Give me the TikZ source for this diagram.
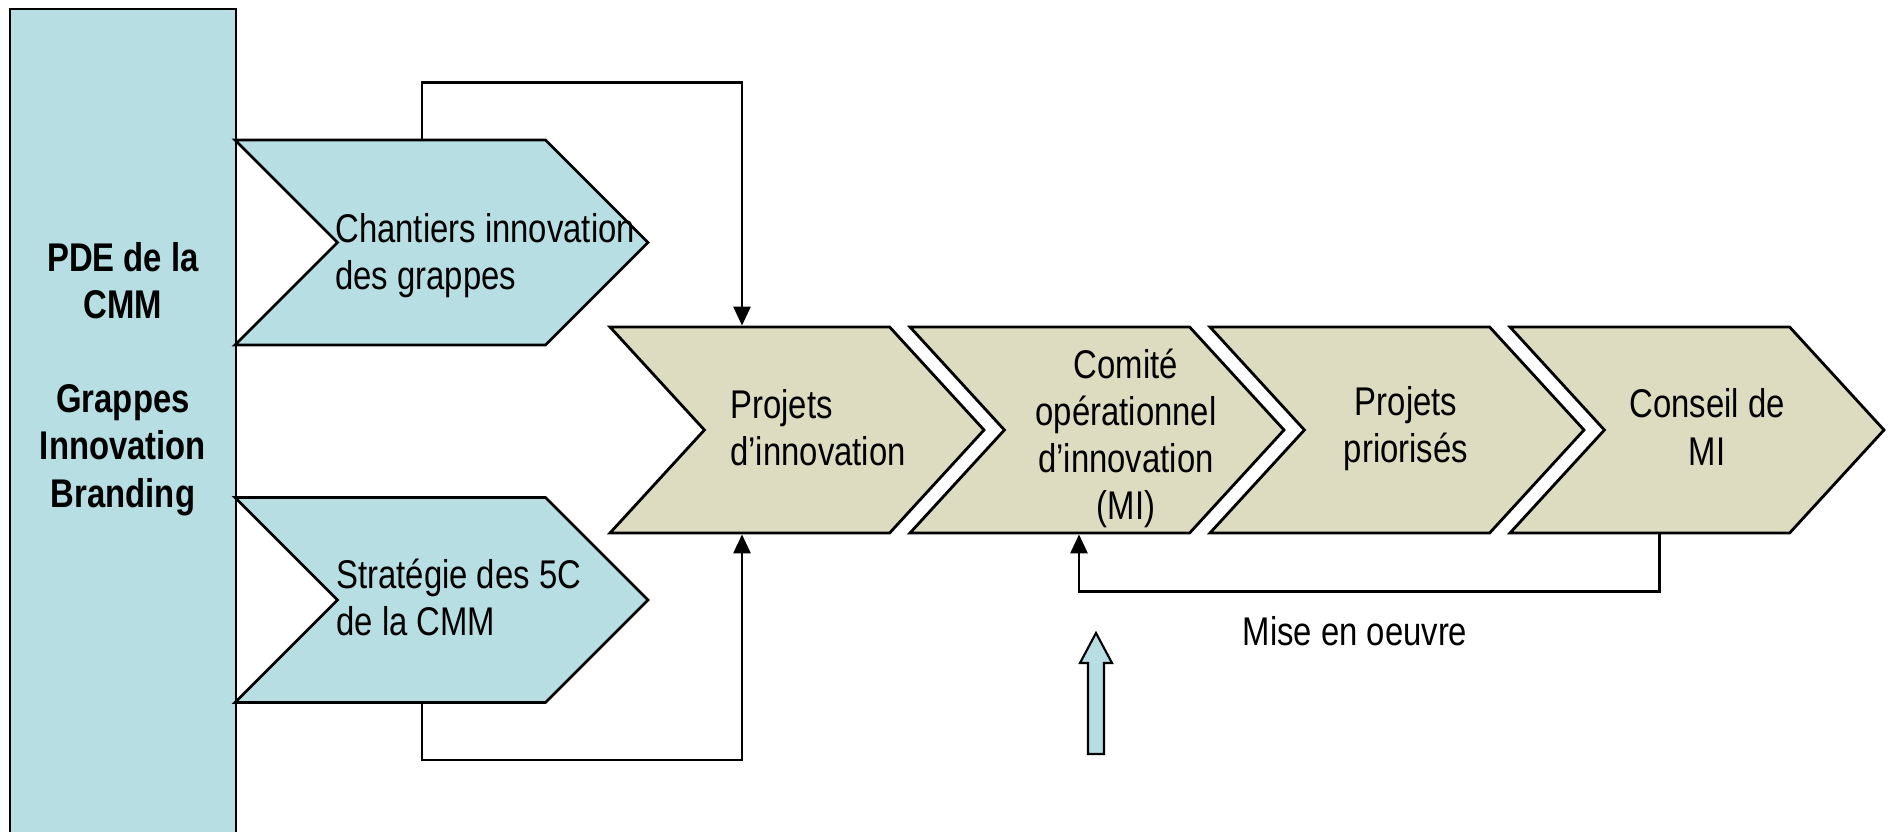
\documentclass[tikz,border=0pt]{standalone}
\usepackage{fontspec}
\setmainfont[FakeStretch=0.82]{Liberation Sans}
\usetikzlibrary{shapes.symbols,arrows.meta}

\definecolor{grappebleu}{HTML}{B7DEE2}
\definecolor{projetbeige}{HTML}{DDDBC0}

\begin{document}
\begin{tikzpicture}[
  line width=0.8pt,
  bloc/.style={signal, signal from=west, signal to=east, draw=black, inner sep=0pt},
  bleu/.style={bloc, fill=grappebleu, signal pointer angle=90, minimum width=4.13cm, minimum height=2.05cm},
  beige/.style={bloc, fill=projetbeige, signal pointer angle=95, minimum width=3.74cm, minimum height=2.06cm},
  txt/.style={inner sep=0pt, font=\fontsize{11.4}{13.4}\selectfont},
  lien/.style={-{Triangle[length=0.19cm,width=0.17cm]}}
]
\clip (0,0) rectangle (18.93,8.31);

% colonne de gauche
\filldraw[fill=grappebleu] (0.10,-0.2) rectangle (2.36,8.22);
\node[txt, align=center, font=\fontsize{11.4}{13.4}\selectfont\bfseries] (pde) at (1.23,4.52)
  {PDE de la\\CMM\\[13.4pt]Grappes\\Innovation\\Branding};

% entrees
\node[bleu] (chantiers) at (4.415,5.885) {};
\node[bleu] (strategie) at (4.415,2.31) {};
\node[txt, anchor=west, align=left] (tchantiers) at (3.34,5.755) {Chantiers innovation\\des grappes};
\node[txt, anchor=west, align=left] (tstrategie) at (3.35,2.34) {Stratégie des 5C\\de la CMM};

% chaine
\node[beige] (projets) at (7.97,4.01) {};
\node[beige] (comite) at (10.97,4.01) {};
\node[beige] (priorises) at (13.97,4.01) {};
\node[beige] (conseil) at (16.97,4.01) {};

\node[txt, anchor=west, align=left] (tprojets) at (7.29,4.035) {Projets\\d’innovation};
\node[txt, align=center] (tcomite) at (11.26,3.925) {Comité\\opérationnel\\d’innovation\\(MI)};
\node[txt, align=center] (tpriorises) at (14.06,4.02) {Projets\\priorisés};
\node[txt, align=center] (tconseil) at (17.07,4.04) {Conseil de\\MI};
\node[txt] (mise) at (13.55,2.00) {Mise en oeuvre};

% liens
\draw[lien] ([xshift=-0.195cm]chantiers.north) -- ++(0,0.56) -| ([xshift=-0.55cm]projets.north);
\draw[lien] ([xshift=-0.195cm]strategie.south) -- ++(0,-0.56) -| ([xshift=-0.55cm]projets.south);
\draw[lien] ([xshift=-0.375cm]conseil.south) -- ++(0,-0.57) -| ([xshift=-0.18cm]comite.south);

% fleche bleue
\filldraw[fill=grappebleu, line width=0.6pt] (10.88,0.77) -- (10.88,1.68) -- (10.80,1.68)
  -- (10.96,1.98) -- (11.12,1.68) -- (11.04,1.68) -- (11.04,0.77) -- cycle;
\end{tikzpicture}
\end{document}
